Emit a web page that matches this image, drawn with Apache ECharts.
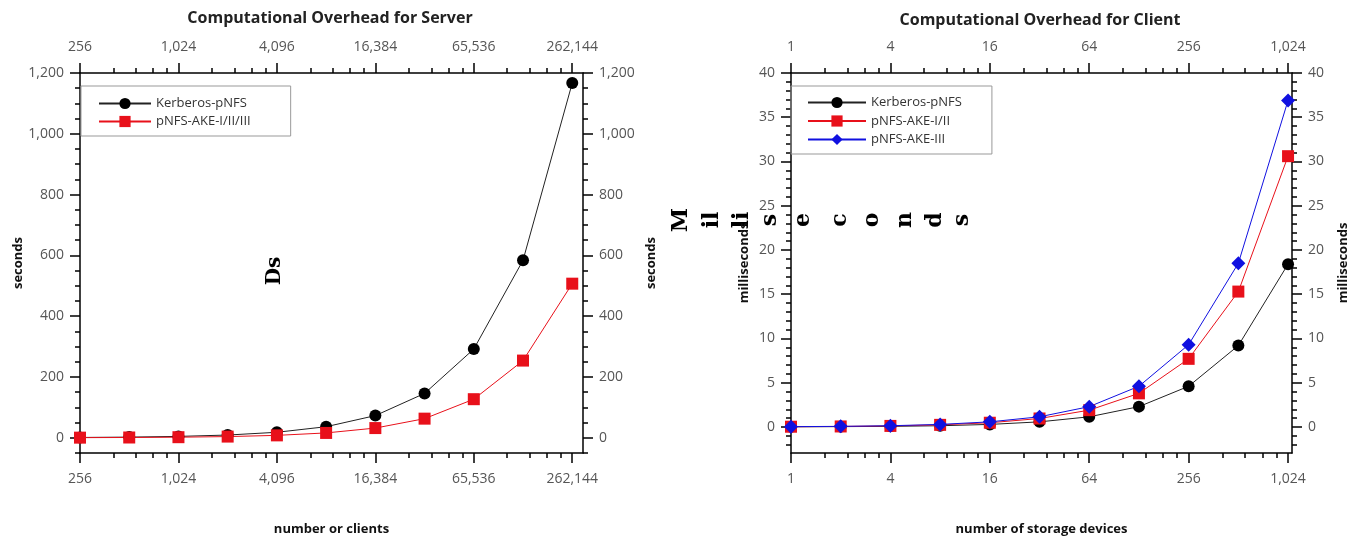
<!DOCTYPE html>
<html>
<head>
<meta charset="utf-8">
<script src="https://cdn.jsdelivr.net/npm/echarts@6/dist/echarts.min.js"></script>
<style>
  html, body { margin: 0; padding: 0; background: #fff; }
  #chart { width: 1357px; height: 537px; }
</style>
</head>
<body>
<div id="chart"></div>
<script>
// server side: number of clients vs seconds
const serverClients = [256, 512, 1024, 2048, 4096, 8192, 16384, 32768, 65536, 131072, 262144];
const serverKerberos = [1.1, 2.3, 4.6, 9.1, 18.2, 36.5, 73, 146, 292, 584, 1167];
const serverAke = [0.5, 1, 2, 4, 8, 16, 32, 63, 127, 254, 507];
const serverXTicks = [256, 1024, 4096, 16384, 65536, 262144];
const serverYTicks = [0, 200, 400, 600, 800, 1000, 1200];

// client side: number of storage devices vs milliseconds
const storageDevices = [1, 2, 4, 8, 16, 32, 64, 128, 256, 512, 1024];
const clientKerberos = [0.02, 0.04, 0.07, 0.14, 0.29, 0.58, 1.15, 2.3, 4.6, 9.2, 18.4];
const clientAke12 = [0.03, 0.06, 0.12, 0.24, 0.48, 0.96, 1.9, 3.8, 7.7, 15.3, 30.6];
const clientAke3 = [0.04, 0.07, 0.14, 0.29, 0.58, 1.15, 2.3, 4.6, 9.3, 18.5, 36.9];
const clientXTicks = [1, 4, 16, 64, 256, 1024];
const clientYTicks = [0, 5, 10, 15, 20, 25, 30, 35, 40];

const labelFont = { color: "#555", fontSize: 14, fontFamily: "Open Sans" };

function zip(xs, ys) {
  return xs.map((x, i) => [x, ys[i]]);
}

// minor ticks on the log axes sit at 1.6, 2.2, 2.8, 3.4 times each major
function logMinors(majors) {
  const out = [];
  majors.forEach((m) => {
    [1.6, 2.2, 2.8, 3.4].forEach((f) => out.push(m * f));
  });
  return out;
}

function stepMinors(from, to, step) {
  const out = [];
  for (let v = from; v <= to + 1e-9; v += step) out.push(+v.toFixed(4));
  return out;
}

function fmt(v) {
  return Number(v).toLocaleString("en-US");
}

function xAxis(grid, pos, min, max, ticks, major, extra) {
  return Object.assign({
    type: "log",
    logBase: 4,
    gridIndex: grid,
    position: pos,
    min: min,
    max: max,
    splitLine: { show: false },
    axisLine: { show: major, onZero: false, lineStyle: { color: "#000", width: 1.5 } },
    axisTick: { show: true, customValues: ticks, length: major ? 10 : 5, lineStyle: { color: "#000", width: 1.5 } },
    axisLabel: major
      ? Object.assign({ show: true, customValues: ticks, margin: 19, formatter: fmt, showMinLabel: true, showMaxLabel: true }, labelFont)
      : { show: false },
  }, extra || {});
}

function yAxis(grid, pos, min, max, ticks, major, extra) {
  return Object.assign({
    type: "value",
    gridIndex: grid,
    position: pos,
    min: min,
    max: max,
    splitLine: { show: false },
    axisLine: { show: major, onZero: false, lineStyle: { color: "#000", width: 1.5 } },
    axisTick: { show: true, customValues: ticks, length: major ? 10 : 5, lineStyle: { color: "#000", width: 1.5 } },
    axisLabel: major
      ? Object.assign({ show: true, customValues: ticks, margin: 16, formatter: fmt }, labelFont)
      : { show: false },
  }, extra || {});
}

const nameStyle = { fontWeight: "bold", fontSize: 13, color: "#111", fontFamily: "Open Sans" };

const sMinX = 256, sMaxX = 305000, sMinY = -50, sMaxY = 1200;
const cMinX = 1, cMaxX = 1082, cMinY = -2.94, cMaxY = 40;

const chart = echarts.init(document.getElementById("chart"));

const option = {
  animation: false,
  grid: [
    { left: 80, top: 73, width: 503, height: 380, outerBoundsMode: "none", containLabel: false },
    { left: 791, top: 73, width: 501, height: 380, outerBoundsMode: "none", containLabel: false },
  ],
  xAxis: [
    xAxis(0, "bottom", sMinX, sMaxX, serverXTicks, true, {
      name: "number or clients", nameLocation: "middle", nameGap: 70, nameTextStyle: nameStyle,
    }),
    xAxis(0, "bottom", sMinX, sMaxX, logMinors(serverXTicks.slice(0, 5)), false),
    xAxis(0, "top", sMinX, sMaxX, serverXTicks, true),
    xAxis(0, "top", sMinX, sMaxX, logMinors(serverXTicks.slice(0, 5)), false),
    xAxis(1, "bottom", cMinX, cMaxX, clientXTicks, true, {
      name: "number of storage devices", nameLocation: "middle", nameGap: 70, nameTextStyle: nameStyle,
    }),
    xAxis(1, "bottom", cMinX, cMaxX, logMinors(clientXTicks.slice(0, 5)), false),
    xAxis(1, "top", cMinX, cMaxX, clientXTicks, true),
    xAxis(1, "top", cMinX, cMaxX, logMinors(clientXTicks.slice(0, 5)), false),
  ],
  yAxis: [
    yAxis(0, "left", sMinY, sMaxY, serverYTicks, true, {
      name: "seconds", nameLocation: "middle", nameGap: 55, nameTextStyle: nameStyle,
    }),
    yAxis(0, "left", sMinY, sMaxY, stepMinors(-50, 1150, 50), false),
    yAxis(0, "right", sMinY, sMaxY, serverYTicks, true, {
      name: "seconds", nameLocation: "middle", nameGap: 62, nameTextStyle: nameStyle,
    }),
    yAxis(0, "right", sMinY, sMaxY, stepMinors(-50, 1150, 50), false),
    yAxis(1, "left", cMinY, cMaxY, clientYTicks, true, {
      name: "milliseconds", nameLocation: "middle", nameGap: 40, nameTextStyle: nameStyle,
    }),
    yAxis(1, "left", cMinY, cMaxY, stepMinors(-2, 39, 1), false),
    yAxis(1, "right", cMinY, cMaxY, clientYTicks, true, {
      name: "milliseconds", nameLocation: "middle", nameGap: 45, nameTextStyle: nameStyle,
    }),
    yAxis(1, "right", cMinY, cMaxY, stepMinors(-2, 39, 1), false),
  ],
  legend: [
    {
      data: ["Kerberos-pNFS", "pNFS-AKE-I/II/III"],
      left: 81, top: 86, orient: "vertical",
      itemWidth: 52, itemHeight: 14, itemGap: 5,
      padding: [11, 40, 8, 17],
      borderColor: "#999", borderWidth: 1,
      textStyle: { fontSize: 13, color: "#333", fontFamily: "Open Sans" },
    },
    {
      data: ["Kerberos-pNFS", "pNFS-AKE-I/II", "pNFS-AKE-III"],
      left: 791, top: 86, orient: "vertical",
      itemWidth: 58, itemHeight: 14, itemGap: 5.5,
      padding: [10, 30, 8, 16],
      borderColor: "#999", borderWidth: 1,
      textStyle: { fontSize: 13, color: "#333", fontFamily: "Open Sans" },
    },
  ],
  series: [
    {
      name: "Kerberos-pNFS", type: "line", xAxisIndex: 0, yAxisIndex: 0,
      data: zip(serverClients, serverKerberos),
      symbol: "circle", symbolSize: 12, color: "#000",
      lineStyle: { width: 1, color: "#222" },
    },
    {
      name: "pNFS-AKE-I/II/III", type: "line", xAxisIndex: 0, yAxisIndex: 0,
      data: zip(serverClients, serverAke),
      symbol: "rect", symbolSize: 12, color: "#e8101a",
      lineStyle: { width: 1, color: "#e8101a" },
    },
    {
      name: "Kerberos-pNFS", type: "line", xAxisIndex: 4, yAxisIndex: 4,
      data: zip(storageDevices, clientKerberos),
      symbol: "circle", symbolSize: 12, color: "#000",
      lineStyle: { width: 1, color: "#222" },
    },
    {
      name: "pNFS-AKE-I/II", type: "line", xAxisIndex: 4, yAxisIndex: 4,
      data: zip(storageDevices, clientAke12),
      symbol: "rect", symbolSize: 12, color: "#e8101a",
      lineStyle: { width: 1, color: "#e8101a" },
    },
    {
      name: "pNFS-AKE-III", type: "line", xAxisIndex: 4, yAxisIndex: 4,
      data: zip(storageDevices, clientAke3),
      symbol: "diamond", symbolSize: 14, color: "#1010e0",
      lineStyle: { width: 1, color: "#1010e0" },
    },
  ],
  graphic: [
    { type: "text", x: 330, y: 18, style: { text: "Computational Overhead for Server", font: 'bold 16px "Open Sans"', fill: "#222", align: "center", verticalAlign: "middle" } },
    { type: "text", x: 1040, y: 20, style: { text: "Computational Overhead for Client", font: 'bold 16px "Open Sans"', fill: "#222", align: "center", verticalAlign: "middle" } },
    // scanner leftovers in the reference
    { type: "text", x: 275, y: 271, rotation: Math.PI / 2, style: { text: "Ds", font: 'bold 20px "DejaVu Serif"', fill: "#000", align: "center", verticalAlign: "middle" } },
    { type: "text", x: 681, y: 220, rotation: Math.PI / 2, style: { text: "M", font: 'bold 22px "DejaVu Serif"', fill: "#000", align: "center", verticalAlign: "middle" } },
    { type: "text", x: 712, y: 220, rotation: Math.PI / 2, style: { text: "il", font: 'bold 22px "DejaVu Serif"', fill: "#000", align: "center", verticalAlign: "middle" } },
    { type: "text", x: 742, y: 220, rotation: Math.PI / 2, style: { text: "li", font: 'bold 22px "DejaVu Serif"', fill: "#000", align: "center", verticalAlign: "middle" } },
    { type: "text", x: 770, y: 220, rotation: Math.PI / 2, style: { text: "s", font: 'bold 22px "DejaVu Serif"', fill: "#000", align: "center", verticalAlign: "middle" } },
    { type: "text", x: 803, y: 220, rotation: Math.PI / 2, style: { text: "e", font: 'bold 22px "DejaVu Serif"', fill: "#000", align: "center", verticalAlign: "middle" } },
    { type: "text", x: 840, y: 220, rotation: Math.PI / 2, style: { text: "c", font: 'bold 22px "DejaVu Serif"', fill: "#000", align: "center", verticalAlign: "middle" } },
    { type: "text", x: 872, y: 220, rotation: Math.PI / 2, style: { text: "o", font: 'bold 22px "DejaVu Serif"', fill: "#000", align: "center", verticalAlign: "middle" } },
    { type: "text", x: 905, y: 220, rotation: Math.PI / 2, style: { text: "n", font: 'bold 22px "DejaVu Serif"', fill: "#000", align: "center", verticalAlign: "middle" } },
    { type: "text", x: 935, y: 220, rotation: Math.PI / 2, style: { text: "d", font: 'bold 22px "DejaVu Serif"', fill: "#000", align: "center", verticalAlign: "middle" } },
    { type: "text", x: 962, y: 220, rotation: Math.PI / 2, style: { text: "s", font: 'bold 22px "DejaVu Serif"', fill: "#000", align: "center", verticalAlign: "middle" } },
  ],
};

chart.setOption(option);
</script>
</body>
</html>
